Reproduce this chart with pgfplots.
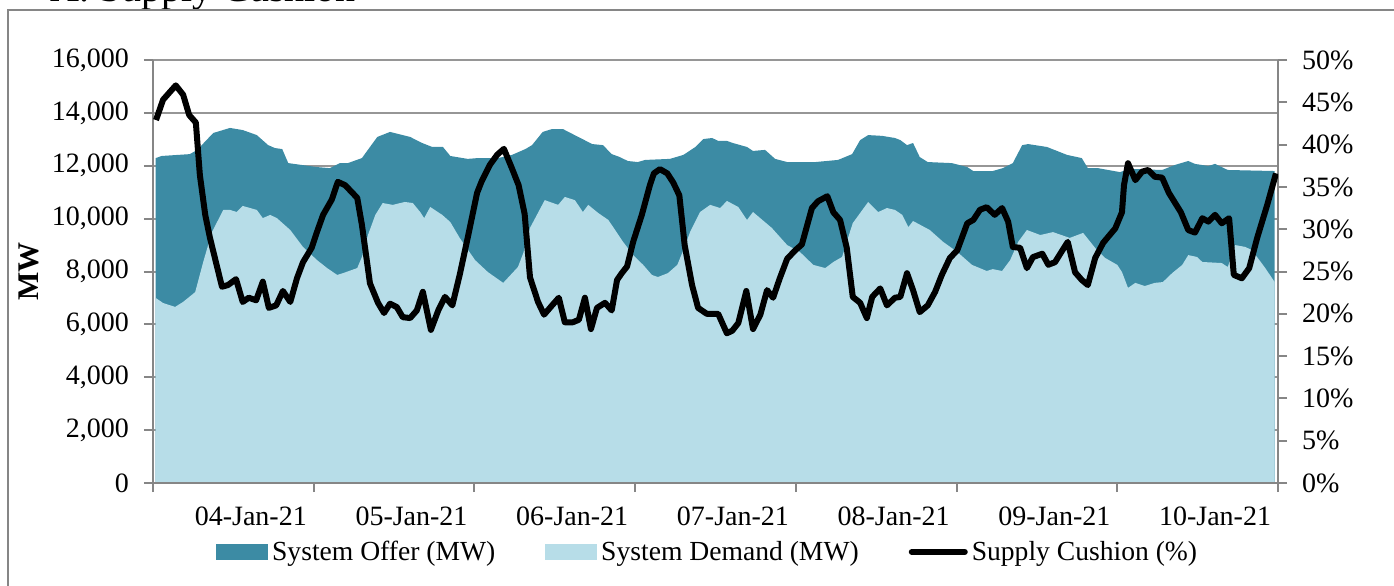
\documentclass[border=0pt]{standalone}
\usepackage{pgfplots}
\pgfplotsset{compat=1.18}
\usepackage{fontspec}
\setmainfont{Liberation Serif}

\definecolor{offer}{RGB}{60,139,164}
\definecolor{demand}{RGB}{183,221,232}
\definecolor{axgray}{RGB}{134,134,134}
\definecolor{gridgray}{RGB}{150,150,150}

% hourly values, x in hours from 04-Jan-21 00:00
\pgfplotstableread{
h    mw
0.4  12290
1.3  12370
5.5  12440
6.6  12600
9.0  13240
11.5 13430
13.4 13350
15.5 13160
17.2 12780
18.2 12670
19.3 12630
20.2 12100
24.5 11950
26.4 11910
27.9 12100
29.1 12100
31.2 12290
32.4 12710
33.5 13090
35.4 13280
38.4 13090
40.2 12860
41.7 12710
43.3 12710
44.4 12370
47.0 12260
48.5 12290
51.5 12290
53.6 12410
55.6 12630
56.6 12780
58.2 13280
59.6 13390
61.2 13390
63.5 13090
65.6 12820
67.2 12780
68.5 12440
69.7 12330
70.9 12180
72.4 12140
73.5 12220
77.2 12260
79.2 12410
81.0 12710
82.2 13010
83.5 13050
84.4 12940
85.7 12940
86.6 12860
88.7 12710
89.6 12560
91.4 12600
92.9 12260
94.7 12140
98.9 12140
102.3 12220
104.4 12440
105.6 12970
106.8 13160
108.9 13130
110.8 13050
111.6 12970
112.6 12780
113.5 12860
114.5 12330
115.7 12140
119.3 12100
121.6 11950
122.5 11800
125.4 11800
126.9 11910
128.4 12100
129.8 12780
130.7 12820
133.5 12710
136.5 12410
138.7 12290
139.6 11910
141.1 11910
144.4 11760
145.9 11880
150.7 11840
152.6 12030
154.6 12180
155.6 12070
157.6 11990
158.6 12070
160.5 11840
167.5 11800
}\offertab

\pgfplotstableread{
h    mw
0.4  7000
1.5  6810
3.3  6660
4.5  6850
6.3  7220
7.5  8360
8.8  9490
10.5 10330
11.5 10330
12.5 10250
13.4 10480
15.5 10330
16.4 10020
17.5 10140
18.5 10020
20.5 9570
22.4 8930
24.5 8430
26.0 8130
27.5 7870
28.4 7940
30.5 8130
31.2 8550
32.1 9380
33.2 10140
34.3 10590
35.8 10520
37.6 10630
38.8 10590
39.9 10250
40.5 10020
41.4 10440
43.2 10140
44.4 9870
45.8 9270
48.1 8430
50.0 7980
52.3 7570
54.5 8170
55.3 8700
56.3 9650
58.5 10700
60.5 10520
61.5 10820
63.0 10700
64.2 10250
65.0 10520
66.5 10210
68.0 9950
69.3 9460
70.2 9120
71.7 8620
73.2 8250
74.5 7870
75.4 7790
76.9 7940
78.3 8250
79.2 8810
80.2 9490
81.7 10250
83.2 10520
84.7 10400
85.7 10670
87.4 10440
88.7 9950
89.6 10250
92.4 9650
94.7 9000
96.6 8740
98.6 8250
100.4 8130
101.6 8360
102.9 8550
103.6 9120
104.5 9830
106.8 10630
108.3 10250
109.6 10400
110.8 10330
111.9 10140
112.8 9680
113.5 9910
116.0 9570
118.0 9120
120.1 8740
122.3 8250
124.5 8020
125.4 8090
126.8 8020
128.0 8430
129.2 9120
130.5 9570
132.5 9380
134.4 9490
136.9 9270
138.9 9460
140.7 8890
142.2 8510
144.0 8250
144.7 7980
145.6 7380
146.7 7570
148.1 7450
149.6 7570
150.8 7600
152.2 7940
153.7 8250
154.6 8620
155.9 8550
156.7 8360
159.6 8320
160.5 8170
161.6 9000
163.1 8930
164.1 8810
166.1 8130
167.5 7600
}\demandtab

\pgfplotstableread{
h    pct
0.45 42.9
1.5  45.3
3.4  47.0
4.5  45.9
5.4  43.5
6.4  42.6
7.0  36.4
7.8  31.7
8.5  29.0
10.3 23.2
11.2 23.4
12.4 24.1
13.4 21.4
14.3 21.9
15.4 21.6
16.4 23.8
17.3 20.7
18.4 21.0
19.4 22.7
20.5 21.4
21.5 24.2
22.4 26.1
23.7 27.8
24.5 29.7
25.4 31.7
26.7 33.5
27.6 35.6
28.7 35.2
30.5 33.7
31.2 30.5
32.4 23.6
33.6 21.3
34.5 20.1
35.4 21.2
36.4 20.8
37.3 19.6
38.4 19.5
39.4 20.4
40.3 22.6
41.5 18.1
42.6 20.4
43.6 22.0
44.7 21.0
45.8 24.6
47.0 29.0
48.4 34.3
49.1 35.7
50.3 37.6
51.4 38.8
52.4 39.5
53.6 37.2
54.6 35.2
55.5 31.8
56.3 24.3
57.5 21.4
58.4 19.9
59.6 21.0
60.6 21.9
61.5 19.0
62.7 19.0
63.6 19.3
64.5 21.9
65.4 18.2
66.3 20.7
67.5 21.3
68.5 20.4
69.3 24.0
70.0 24.8
70.8 25.6
71.7 28.5
73.0 31.7
74.2 35.2
74.8 36.6
75.7 37.1
76.8 36.6
77.7 35.5
78.6 34.0
79.4 28.1
80.5 23.4
81.4 20.7
82.7 20.0
84.4 20.0
85.7 17.7
86.5 18.0
87.4 18.9
88.6 22.7
89.6 18.2
90.7 19.9
91.7 22.8
92.6 21.9
93.6 24.2
94.7 26.5
95.9 27.5
96.9 28.2
98.4 32.5
99.3 33.3
100.7 33.9
101.6 32.0
102.6 31.1
103.6 27.8
104.5 22.0
105.6 21.3
106.6 19.5
107.4 22.0
108.6 23.0
109.6 21.0
110.8 21.9
111.6 22.0
112.6 24.8
113.5 22.8
114.5 20.2
115.7 21.0
116.8 22.6
117.8 24.6
119.0 26.6
120.1 27.5
121.6 30.7
122.5 31.1
123.5 32.3
124.5 32.6
125.7 31.7
126.8 32.5
127.7 30.9
128.4 27.9
129.5 27.8
130.5 25.4
131.4 26.7
132.8 27.1
133.7 25.8
134.7 26.1
135.8 27.5
136.6 28.5
137.7 24.9
138.7 24.0
139.6 23.4
140.7 26.6
141.9 28.4
143.7 30.1
144.7 32.0
145.0 35.2
145.6 37.8
146.7 35.8
147.7 36.8
148.6 37.0
149.6 36.2
150.7 36.1
151.7 34.3
153.5 32.0
154.6 29.9
155.6 29.6
156.7 31.3
157.6 30.9
158.6 31.7
159.6 30.7
160.7 31.3
161.4 24.6
162.6 24.2
163.7 25.4
164.9 29.0
166.4 32.9
167.7 36.6
}\cushiontab

\pgfplotsset{
  base/.style={
    width=562.5pt, height=211.5pt, scale only axis,
    at={(0,0)}, anchor=south west,
    xmin=0, xmax=168,
    axis line style={axgray, line width=1pt},
    tick style={axgray, line width=1pt},
    tick align=outside,
    major tick length=4.5pt,
    ticklabel style={font=\fontsize{14}{16}\selectfont},
    /pgf/number format/assume math mode=true,
  },
}

\begin{document}
\begin{tikzpicture}
\begin{axis}[base,
  axis x line*=bottom, axis y line*=left,
  ymin=0, ymax=16000, ytick={0,2000,...,16000},
  scaled y ticks=false,
  yticklabel style={/pgf/number format/1000 sep={,}, xshift=-4pt},
  ymajorgrids, grid style={gridgray, line width=1pt},
  xtick={0,24,...,168},
  xticklabels={04-Jan-21,05-Jan-21,06-Jan-21,07-Jan-21,08-Jan-21,09-Jan-21,10-Jan-21,{}},
  xticklabel style={xshift=48.9pt, yshift=-4pt},
  ylabel={MW},
  ylabel style={font=\fontsize{15}{17}\selectfont\bfseries, at={(axis description cs:-0.1102,0.5)}, anchor=center},
]
\addplot[fill=offer, draw=none] table[x=h, y=mw] {\offertab} \closedcycle;
\addplot[fill=demand, draw=none] table[x=h, y=mw] {\demandtab} \closedcycle;
\end{axis}

\begin{axis}[base,
  axis x line*=bottom, axis y line*=right,
  xtick=\empty,
  ymin=0, ymax=50, ytick={0,5,...,50},
  yticklabel={\pgfmathprintnumber{\tick}\%},
  yticklabel style={xshift=4pt},
  legend columns=3,
  legend cell align=left,
  legend style={at={(axis description cs:0.494,-0.163)}, anchor=center,
    draw=none, fill=none, font=\fontsize{13.8}{15}\selectfont,
    /tikz/every even column/.append style={column sep=23pt}},
]
\addlegendimage{legend image code/.code={\fill[offer] (0pt,-3.75pt) rectangle (25.5pt,3.75pt);}}
\addlegendentry{System Offer (MW)}
\addlegendimage{legend image code/.code={\fill[demand] (0pt,-3.75pt) rectangle (25.5pt,3.75pt);}}
\addlegendentry{System Demand (MW)}
\addplot[black, line width=3pt, line join=round,
  legend image code/.code={\draw[black, line width=3pt, line cap=round] (0pt,0pt) -- (26.5pt,0pt);}]
  table[x=h, y=pct] {\cushiontab};
\addlegendentry{Supply Cushion (\%)}
\end{axis}

\node[anchor=base west, font=\fontsize{20}{24}\selectfont, inner sep=0pt] at (-51.5pt,240.5pt) {A. Supply Cushion};
\draw[axgray, line width=1pt] (-72.5pt,-90pt) rectangle (660pt,236.5pt);
\pgfresetboundingbox
\useasboundingbox (-76.5pt,-51pt) rectangle (620.5pt,241.5pt);
\end{tikzpicture}
\end{document}
